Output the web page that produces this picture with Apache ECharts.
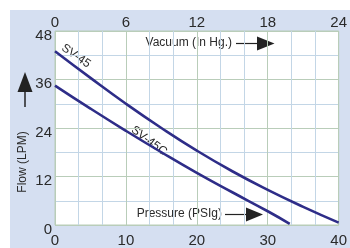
<!DOCTYPE html>
<html>
<head>
<meta charset="utf-8">
<script src="https://cdn.jsdelivr.net/npm/echarts@6/dist/echarts.min.js"></script>
<style>
  html, body { margin: 0; padding: 0; background: #fff; }
  #wrap { position: relative; width: 350px; height: 248px; }
  #panel { position: absolute; left: 10px; top: 10px; width: 340px; height: 238px; background: #d5dff1; }
  #main { position: absolute; left: 0; top: 0; width: 350px; height: 248px; }
</style>
</head>
<body>
<div id="wrap">
  <div id="panel"></div>
  <div id="main"></div>
</div>
<script>
// pressure (PSIg) on the bottom axis, vacuum (In Hg.) on top, flow in LPM
var pressureTicks = [0, 10, 20, 30, 40];
var vacuumTicks = [0, 6, 12, 18, 24];
var flowTicks = [0, 12, 24, 36, 48];

// SV-45 curve
var sv45Pressure = [0, 5, 10, 15, 20, 25, 30, 35, 40];
var sv45Flow = [43, 36.4, 30.0, 24.0, 18.4, 13.3, 8.7, 4.5, 0.6];

// SV-45C curve
var sv45cPressure = [0, 5, 10, 15, 20, 25, 30, 33.1];
var sv45cFlow = [34.5, 28.8, 23.3, 18.0, 12.9, 8.1, 3.4, 0.3];

var FONT = "'Liberation Sans', Arial, sans-serif";
var TXT = '#2a2a2a';
var LINE = '#2e2d88';
var MAJOR = '#b9cdb9';
var MINOR = '#c3d6e6';

function pairs(xs, ys) {
  return xs.map(function (x, i) { return [x, ys[i]]; });
}

var chart = echarts.init(document.getElementById('main'), null, { renderer: 'canvas' });

chart.setOption({
  animation: false,
  textStyle: { fontFamily: FONT },
  grid: {
    left: 55, top: 31, right: 3, bottom: 22,
    show: true, backgroundColor: '#fff', borderColor: MAJOR, borderWidth: 1
  },
  xAxis: [{
    type: 'value', position: 'bottom',
    min: pressureTicks[0], max: pressureTicks[pressureTicks.length - 1], interval: 10,
    axisLine: { show: false }, axisTick: { show: false },
    axisLabel: { color: TXT, fontSize: 15, margin: 8, fontFamily: FONT, alignMinLabel: 'center', alignMaxLabel: 'center' },
    splitLine: { show: true, lineStyle: { color: MAJOR, width: 1 } },
    minorTick: { show: false, splitNumber: 3 },
    minorSplitLine: { show: true, lineStyle: { color: MINOR, width: 1 } }
  }, {
    type: 'value', position: 'top',
    min: vacuumTicks[0], max: vacuumTicks[vacuumTicks.length - 1], interval: 6,
    axisLine: { show: false }, axisTick: { show: false },
    axisLabel: { color: TXT, fontSize: 15, margin: 1, fontFamily: FONT, alignMinLabel: 'center', alignMaxLabel: 'center' },
    splitLine: { show: false }
  }],
  yAxis: {
    type: 'value',
    min: flowTicks[0], max: flowTicks[flowTicks.length - 1], interval: 12,
    axisLine: { show: false }, axisTick: { show: false },
    axisLabel: {
      margin: 3,
      formatter: function (v) { return '{n|' + v + '}'; },
      rich: { n: { color: TXT, fontSize: 15, fontFamily: FONT, padding: [9, 0, 0, 0] } }
    },
    splitLine: { show: true, lineStyle: { color: MAJOR, width: 1 } },
    minorTick: { show: false, splitNumber: 2 },
    minorSplitLine: { show: true, lineStyle: { color: MINOR, width: 1 } }
  },
  series: [{
    name: 'SV-45', type: 'line', xAxisIndex: 0,
    data: pairs(sv45Pressure, sv45Flow),
    smooth: 0.5, symbol: 'none',
    lineStyle: { color: LINE, width: 2.6 }
  }, {
    name: 'SV-45C', type: 'line', xAxisIndex: 0,
    data: pairs(sv45cPressure, sv45cFlow),
    smooth: 0.5, symbol: 'none',
    lineStyle: { color: LINE, width: 2.6 }
  }],
  graphic: [
    // y axis title and up arrow
    { type: 'text', x: 22.5, y: 162, rotation: Math.PI / 2,
      style: { text: 'Flow (LPM)', font: '12px ' + FONT, fill: TXT, align: 'center', verticalAlign: 'middle' } },
    { type: 'polygon', shape: { points: [[25, 72], [17.5, 92], [32.5, 92]] }, style: { fill: '#222' } },
    { type: 'line', shape: { x1: 25, y1: 91, x2: 25, y2: 107 }, style: { stroke: '#222', lineWidth: 1.5 } },
    // vacuum label + arrow
    { type: 'text', x: 232, y: 43,
      style: { text: 'Vacuum (In Hg.)', font: '12px ' + FONT, fill: TXT, align: 'right', verticalAlign: 'middle' } },
    { type: 'line', shape: { x1: 236, y1: 43.5, x2: 258, y2: 43.5 }, style: { stroke: '#222', lineWidth: 1.2 } },
    { type: 'polygon', shape: { points: [[257, 36.5], [274.5, 43.5], [257, 50.5]] }, style: { fill: '#222' } },
    // pressure label + arrow
    { type: 'text', x: 222, y: 213.5,
      style: { text: 'Pressure (PSIg)', font: '12px ' + FONT, fill: TXT, align: 'right', verticalAlign: 'middle' } },
    { type: 'line', shape: { x1: 225, y1: 214.5, x2: 247, y2: 214.5 }, style: { stroke: '#222', lineWidth: 1.2 } },
    { type: 'polygon', shape: { points: [[246, 207.5], [263, 214.5], [246, 221.5]] }, style: { fill: '#222' } },
    // curve names
    { type: 'text', x: 76, y: 56, rotation: -0.6,
      style: { text: 'SV-45', font: '12px ' + FONT, fill: TXT, align: 'center', verticalAlign: 'middle' } },
    { type: 'text', x: 149, y: 141, rotation: -0.64,
      style: { text: 'SV-45C', font: '12px ' + FONT, fill: TXT, align: 'center', verticalAlign: 'middle' } }
  ]
});
</script>
</body>
</html>
